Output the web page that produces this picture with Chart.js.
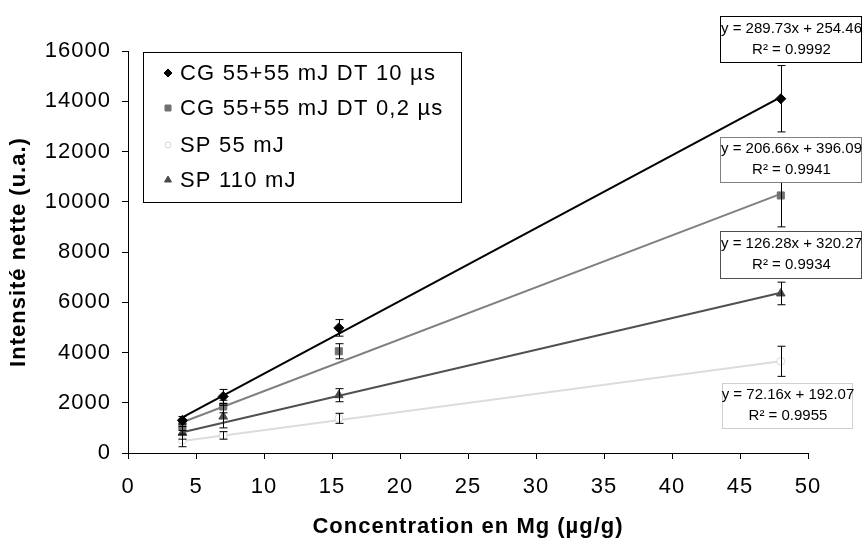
<!DOCTYPE html>
<html><head><meta charset="utf-8">
<script src="https://cdn.jsdelivr.net/npm/chart.js@4/dist/chart.umd.min.js"></script>
<style>html,body{margin:0;padding:0;background:#fff}</style>
</head><body>
<canvas id="c" width="862" height="540" style="display:block;width:862px;height:540px"></canvas>
<script>
// ---- data ----
const concentrations = [4, 7, 15.5, 48];
const seriesNames = ['CG 55+55 mJ DT 10 µs', 'CG 55+55 mJ DT 0,2 µs', 'SP 55 mJ', 'SP 110 mJ'];
const cg10 = [1300, 2250, 4980, 14100];
const cg10Err = [150, 280, 330, 1320];
const cg02 = [1050, 1850, 4050, 10250];
const cg02Err = [150, 250, 300, 1250];
const sp55 = [500, 700, 1380, 3650];
const sp55Err = [250, 150, 200, 600];
const sp110 = [800, 1450, 2300, 6350];
const sp110Err = [250, 450, 260, 450];
const slopes = [289.73, 206.66, 72.16, 126.28];
const intercepts = [254.46, 396.09, 192.07, 320.27];
const r2Values = ['0.9992', '0.9941', '0.9955', '0.9934'];
const xTicks = [0, 5, 10, 15, 20, 25, 30, 35, 40, 45, 50];
const yTicks = [0, 2000, 4000, 6000, 8000, 10000, 12000, 14000, 16000];

const seriesValues = [cg10, cg02, sp55, sp110];
const seriesErrors = [cg10Err, cg02Err, sp55Err, sp110Err];
const markerColors = ['#000000', '#707070', '#d8d8d8', '#4a4a4a'];
const lineColors = ['#000000', '#808080', '#dcdcdc', '#505050'];
const markerStyles = ['rectRot', 'rect', 'circle', 'triangle'];
const markerSizes = [5, 5, 4, 5];
const boxBorders = ['#000000', '#808080', '#d0d0d0', '#505050'];
// equation label boxes (layout only)
const eqBoxes = [
  {x: 720, y: 16, w: 141, h: 46},
  {x: 720, y: 137, w: 141, h: 45},
  {x: 722, y: 383, w: 130, h: 45},
  {x: 720, y: 231, w: 141, h: 47}
];

const FONT = '"Liberation Sans", Arial, sans-serif';

const pointDatasets = seriesValues.map((vals, i) => ({
  type: 'scatter',
  label: seriesNames[i],
  data: concentrations.map((c, j) => ({x: c, y: vals[j]})),
  pointStyle: markerStyles[i],
  pointRadius: markerSizes[i],
  pointBackgroundColor: i === 2 ? '#ffffff' : markerColors[i],
  pointBorderColor: markerColors[i],
  pointBorderWidth: 1,
  showLine: false,
  order: 0,
  clip: false
}));

const trendDatasets = seriesValues.map((vals, i) => {
  const x0 = concentrations[0], x1 = concentrations[concentrations.length - 1];
  return {
    type: 'line',
    label: 'trend ' + seriesNames[i],
    data: [{x: x0, y: slopes[i] * x0 + intercepts[i]}, {x: x1, y: slopes[i] * x1 + intercepts[i]}],
    borderColor: lineColors[i],
    borderWidth: 2,
    pointRadius: 0,
    fill: false,
    order: 1,
    clip: false
  };
});

function drawMarker(ctx, style, x, y, r, fill, stroke) {
  ctx.save();
  ctx.beginPath();
  if (style === 'rectRot') {
    ctx.moveTo(x, y - r); ctx.lineTo(x + r, y); ctx.lineTo(x, y + r); ctx.lineTo(x - r, y); ctx.closePath();
  } else if (style === 'rect') {
    ctx.rect(x - r * 0.75, y - r * 0.75, r * 1.5, r * 1.5);
  } else if (style === 'circle') {
    ctx.arc(x, y, r, 0, Math.PI * 2);
  } else {
    ctx.moveTo(x, y - r); ctx.lineTo(x + r * 0.87, y + r * 0.5); ctx.lineTo(x - r * 0.87, y + r * 0.5); ctx.closePath();
  }
  ctx.fillStyle = fill; ctx.fill();
  ctx.strokeStyle = stroke; ctx.lineWidth = 1; ctx.stroke();
  ctx.restore();
}

const spacingPlugin = {
  id: 'spacing',
  beforeDraw(chart) { chart.ctx.letterSpacing = '1px'; }
};

const errorBarPlugin = {
  id: 'errorBars',
  afterDatasetsDraw(chart) {
    const {ctx, scales: {x, y}} = chart;
    ctx.save();
    ctx.strokeStyle = '#000';
    ctx.lineWidth = 1;
    seriesValues.forEach((vals, i) => {
      vals.forEach((v, j) => {
        const px = Math.round(x.getPixelForValue(concentrations[j])) + 0.5;
        const yt = y.getPixelForValue(v + seriesErrors[i][j]);
        const yb = y.getPixelForValue(v - seriesErrors[i][j]);
        ctx.beginPath();
        ctx.moveTo(px, yt); ctx.lineTo(px, yb);
        ctx.moveTo(px - 4, yt); ctx.lineTo(px + 4, yt);
        ctx.moveTo(px - 4, yb); ctx.lineTo(px + 4, yb);
        ctx.stroke();
      });
    });
    ctx.restore();
  }
};

const annotPlugin = {
  id: 'annot',
  afterDraw(chart) {
    const ctx = chart.ctx;
    ctx.save();
    // legend box
    ctx.fillStyle = '#fff';
    ctx.fillRect(143, 52, 318, 150);
    ctx.strokeStyle = '#000'; ctx.lineWidth = 1;
    ctx.strokeRect(143.5, 52.5, 318, 150);
    const rows = [73, 108, 145, 180];
    ctx.font = '22px ' + FONT;
    ctx.letterSpacing = '1.2px';
    ctx.textBaseline = 'middle';
    ctx.textAlign = 'left';
    seriesNames.forEach((n, i) => {
      drawMarker(ctx, markerStyles[i], 168, rows[i], i === 2 ? 3 : 4, i === 2 ? '#fff' : markerColors[i], markerColors[i]);
      ctx.fillStyle = '#000';
      ctx.fillText(n, 180, rows[i] + 1);
    });
    // equation boxes
    ctx.letterSpacing = '0px';
    eqBoxes.forEach((b, i) => {
      ctx.fillStyle = '#fff';
      ctx.fillRect(b.x, b.y, b.w, b.h);
      ctx.strokeStyle = boxBorders[i];
      ctx.strokeRect(b.x + 0.5, b.y + 0.5, b.w, b.h);
      ctx.fillStyle = '#000';
      ctx.textAlign = 'center';
      ctx.font = '15px ' + FONT;
      const cx = b.x + b.w / 2 + 1;
      ctx.fillText('y = ' + slopes[i].toFixed(2) + 'x + ' + intercepts[i].toFixed(2), cx, b.y + b.h * 0.27);
      ctx.fillText('R² = ' + r2Values[i], cx, b.y + b.h * 0.73);
    });
    ctx.restore();
  }
};

new Chart(document.getElementById('c'), {
  type: 'scatter',
  data: {datasets: [...pointDatasets, ...trendDatasets]},
  options: {
    responsive: false,
    animation: false,
    layout: {padding: {top: 51, right: 54, left: 0, bottom: 0}},
    plugins: {legend: {display: false}, tooltip: {enabled: false}},
    scales: {
      x: {
        type: 'linear', min: 0, max: 50,
        afterFit(s) { s.height = 87; },
        afterBuildTicks(s) { s.ticks = xTicks.map(v => ({value: v})); },
        grid: {display: true, drawOnChartArea: false, drawTicks: true, tickLength: 6, color: '#000'},
        border: {display: true, color: '#000', width: 1},
        ticks: {color: '#000', font: {family: FONT, size: 22}, padding: 15, maxRotation: 0, autoSkip: false},
        title: {display: true, text: 'Concentration en Mg (µg/g)', color: '#000', font: {family: FONT, size: 22, weight: 'bold'}, padding: {top: 0, bottom: 0}}
      },
      y: {
        type: 'linear', min: 0, max: 16000,
        afterFit(s) { s.width = 128; },
        afterBuildTicks(s) { s.ticks = yTicks.map(v => ({value: v})); },
        grid: {display: true, drawOnChartArea: false, drawTicks: true, tickLength: 6, color: '#000'},
        border: {display: true, color: '#000', width: 1},
        ticks: {color: '#000', font: {family: FONT, size: 22}, padding: 11, callback: v => String(v)},
        title: {display: true, text: 'Intensité nette (u.a.)', color: '#000', font: {family: FONT, size: 22, weight: 'bold'}, padding: {top: 6, bottom: 0}}
      }
    }
  },
  plugins: [spacingPlugin, errorBarPlugin, annotPlugin]
});
</script>
</body></html>
